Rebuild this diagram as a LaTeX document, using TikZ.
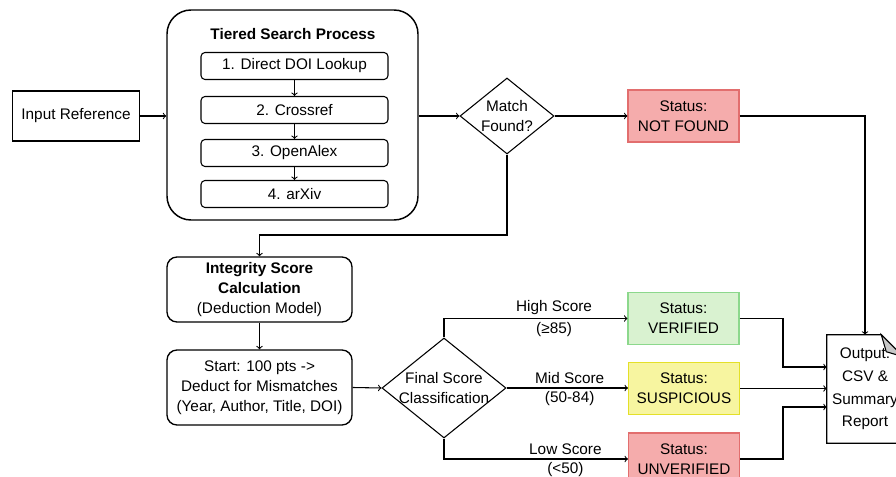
\documentclass[tikz,border=0pt]{standalone}
\usepackage{fontspec}
\setmainfont{Liberation Sans}
\usetikzlibrary{shapes.geometric,positioning,calc}
\definecolor{redfill}{RGB}{245,172,172}
\definecolor{reddraw}{RGB}{226,110,110}
\definecolor{greenfill}{RGB}{217,242,208}
\definecolor{greendraw}{RGB}{140,216,140}
\definecolor{yellowfill}{RGB}{247,245,160}
\definecolor{yellowdraw}{RGB}{228,224,40}
\definecolor{foldgrey}{RGB}{200,200,200}
\newdimen\pxu
\pxu=0.75pt

\begin{document}
\begin{tikzpicture}[
    x=0.75pt, y=-0.75pt,
    every node/.style={font=\fontsize{11.5}{15}\selectfont},
    plainbox/.style={rectangle, draw, line width=0.8pt, align=center,
                minimum width=127*\pxu, minimum height=50*\pxu},
    groupbox/.style={rectangle, draw, line width=1.1pt, rounded corners=24*\pxu,
                minimum width=251*\pxu, minimum height=210*\pxu},
    stepbox/.style={rectangle, draw, line width=0.8pt, rounded corners=4*\pxu,
                minimum width=187*\pxu, minimum height=27*\pxu},
    roundbox/.style={rectangle, draw, line width=1pt, rounded corners=10*\pxu, align=center,
                minimum width=185*\pxu},
    decision/.style={diamond, draw, line width=0.8pt, inner sep=0pt},
    status/.style={rectangle, line width=0.8pt, align=center,
                minimum width=111*\pxu, minimum height=52*\pxu},
    lbl/.style={font=\fontsize{11.5}{13}\selectfont, inner sep=2.5pt},
    arrow/.style={->, line width=0.8pt, >=to}
]
    \useasboundingbox (0,0) rectangle (896,477);

    % Search stage
    \node[plainbox] (inp) at (76,116) {Input Reference};
    \node[groupbox] (tier) at (292.5,115) {};
    \node[font=\fontsize{11.5}{13}\selectfont\bfseries] (tiertitle) at (293,34) {Tiered Search Process};
    \node[stepbox] (s1) at (294.5,66) {1. Direct DOI Lookup};
    \node[stepbox] (s2) at (294.5,110) {2. Crossref};
    \node[stepbox] (s3) at (294.5,153) {3. OpenAlex};
    \node[stepbox] (s4) at (294.5,194) {4. arXiv};

    \node[decision, minimum width=94*\pxu, minimum height=76*\pxu,
          label={[align=center, font=\fontsize{11.5}{15}\selectfont]center:Match\\Found?}] (match) at (507,116) {};
    \node[status, draw=reddraw, fill=redfill] (nf) at (683.5,116) {Status:\\NOT FOUND};

    % Scoring stage
    \node[roundbox, minimum height=65*\pxu] (integ) at (259.5,289.5)
        {\textbf{Integrity Score}\\\textbf{Calculation}\\(Deduction Model)};
    \node[roundbox, minimum height=75*\pxu] (start) at (259.5,387.5)
        {Start: 100 pts ->\\Deduct for Mismatches\\(Year, Author, Title, DOI)};
    \node[decision, minimum width=124*\pxu, minimum height=100*\pxu,
          label={[align=center, font=\fontsize{11.5}{14.5}\selectfont]center:Final Score\\Classification}] (fin) at (444,388) {};

    \node[status, draw=greendraw, fill=greenfill] (ver) at (683.5,318.5) {Status:\\VERIFIED};
    \node[status, draw=yellowdraw, fill=yellowfill] (sus) at (684,388.5) {Status:\\SUSPICIOUS};
    \node[status, draw=reddraw, fill=redfill] (unv) at (684,459) {Status:\\UNVERIFIED};

    % Output document
    \node[minimum width=76*\pxu, minimum height=108*\pxu, align=center,
          font=\fontsize{11.5}{17}\selectfont] (outp) at (865,389)
        {Output:\\CSV \&\\Summary\\Report};
    \draw[line width=0.8pt] (outp.north west) -- ($(outp.north east)+(-22,0)$)
        -- ($(outp.north east)+(0,22)$) -- (outp.south east) -- (outp.south west) -- cycle;
    \draw[line width=0.8pt, fill=foldgrey] ($(outp.north east)+(-22,0)$)
        -- ($(outp.north east)+(-17,17)$) -- ($(outp.north east)+(0,22)$) -- cycle;

    \coordinate (mbend) at (507,235);
    \coordinate (vbend) at (783,318.5);
    \coordinate (ubend) at (783,459);

    % Connections
    \draw[arrow] (inp.east) -- (inp.east -| tier.west);
    \draw[arrow] (s1) -- (s2);
    \draw[arrow] (s2) -- (s3);
    \draw[arrow] (s3) -- (s4);
    \draw[arrow] (match.west -| tier.east) -- (match.west);
    \draw[arrow] (match) -- (nf);
    \draw[arrow] (nf.east) -| (outp.north);
    \draw[arrow] (match.south) -- (mbend) -| (integ.north);
    \draw[arrow] (integ) -- (start);
    \draw[arrow] (start.east) -- (fin.west);
    \draw[arrow] (fin.north) |- (ver.west)
        node[lbl, pos=0.8, above] {High Score} node[lbl, pos=0.8, below] {(≥85)};
    \draw[arrow] (fin.east) -- (sus.west |- fin.east)
        node[lbl, pos=0.52, above] {Mid Score} node[lbl, pos=0.52, below] {(50-84)};
    \draw[arrow] (fin.south) |- (unv.west)
        node[lbl, pos=0.83, above] {Low Score} node[lbl, pos=0.83, below] {(<50)};
    \draw[arrow] (ver.east) -- (vbend) |- ($(outp.west)+(0,-22)$);
    \draw[arrow] (sus.east) -- (sus.east -| outp.west);
    \draw[arrow] (unv.east) -- (ubend) |- ($(outp.west)+(0,18)$);

\end{tikzpicture}
\end{document}
